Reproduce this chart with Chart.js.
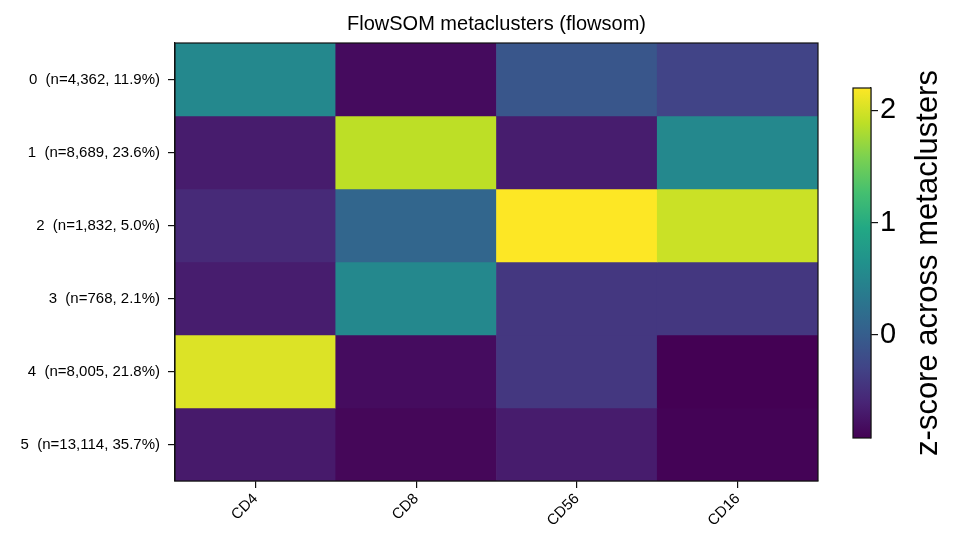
<!DOCTYPE html>
<html>
<head>
<meta charset="utf-8">
<script src="https://cdn.jsdelivr.net/npm/chart.js@4.4.1/dist/chart.umd.min.js"></script>
<style>
  body { margin: 0; background: #fff; }
  #wrap { position: relative; width: 957px; height: 552px; }
  #wrap canvas { position: absolute; top: 0; }
</style>
</head>
<body>
<div id="wrap">
  <canvas id="heat" width="957" height="552" style="left:0"></canvas>
  <canvas id="cbar" width="137" height="552" style="left:820px"></canvas>
</div>
<script>
// markers on x, metaclusters on y
var markers = ['CD4', 'CD8', 'CD56', 'CD16'];
var clusters = [
  '0  (n=4,362, 11.9%)',
  '1  (n=8,689, 23.6%)',
  '2  (n=1,832, 5.0%)',
  '3  (n=768, 2.1%)',
  '4  (n=8,005, 21.8%)',
  '5  (n=13,114, 35.7%)'
];
// z-scores per metacluster (CD4, CD8, CD56, CD16)
var z0 = [0.53, -0.83, -0.09, -0.30];
var z1 = [-0.68, 1.89, -0.67, 0.53];
var z2 = [-0.55, 0.10, 2.20, 1.95];
var z3 = [-0.67, 0.53, -0.42, -0.42];
var z4 = [2.04, -0.82, -0.42, -0.92];
var z5 = [-0.70, -0.87, -0.68, -0.90];
var zRows = [z0, z1, z2, z3, z4, z5];
var cbarTicks = [0, 1, 2];
var title = 'FlowSOM metaclusters (flowsom)';
var cbarTitle = 'z-score across metaclusters';

var zmin = Math.min.apply(null, zRows.flat());
var zmax = Math.max.apply(null, zRows.flat());

var viridis = ['#440154', '#482475', '#414487', '#355f8d', '#2a788e',
  '#21918c', '#22a884', '#44bf70', '#7ad151', '#bddf26', '#fde725'];

function hexRgb(h) {
  return [parseInt(h.substr(1, 2), 16), parseInt(h.substr(3, 2), 16), parseInt(h.substr(5, 2), 16)];
}

function colorFor(v) {
  var t = (v - zmin) / (zmax - zmin);
  t = Math.max(0, Math.min(1, t)) * (viridis.length - 1);
  var i = Math.min(Math.floor(t), viridis.length - 2);
  var f = t - i;
  var a = hexRgb(viridis[i]), b = hexRgb(viridis[i + 1]);
  var c = a.map(function(x, k) { return Math.round(x + (b[k] - x) * f); });
  return 'rgb(' + c.join(',') + ')';
}

var FONT = "'Liberation Sans', Arial, sans-serif";
Chart.defaults.font.family = FONT;
Chart.defaults.color = '#000';
Chart.defaults.animation = false;

var framePlugin = {
  id: 'frame',
  afterDraw: function(chart) {
    var a = chart.chartArea, ctx = chart.ctx;
    ctx.save();
    ctx.strokeStyle = '#111';
    ctx.lineWidth = 1.2;
    ctx.strokeRect(a.left, a.top, a.right - a.left, a.bottom - a.top);
    ctx.restore();
  }
};

// title centred over the heatmap area, like matplotlib does
var axTitle = {
  id: 'axTitle',
  afterDraw: function(chart) {
    var a = chart.chartArea, ctx = chart.ctx;
    ctx.save();
    ctx.fillStyle = '#000';
    ctx.font = '20px ' + FONT;
    ctx.textAlign = 'center';
    ctx.textBaseline = 'middle';
    ctx.fillText(title, (a.left + a.right) / 2, 24);
    ctx.restore();
  }
};

// one stacked unit bar per metacluster row, coloured by z-score
var heatDatasets = zRows.map(function(row, i) {
  return {
    label: clusters[i],
    data: markers.map(function() { return 1; }),
    backgroundColor: row.map(colorFor),
    borderWidth: 0,
    barPercentage: 1,
    categoryPercentage: 1
  };
});

new Chart(document.getElementById('heat'), {
  type: 'bar',
  data: { labels: markers, datasets: heatDatasets },
  options: {
    responsive: false,
    devicePixelRatio: 1,
    layout: { padding: { left: 0, right: 139, top: 43, bottom: 0 } },
    plugins: {
      legend: { display: false },
      tooltip: { enabled: false },
      title: { display: false }
    },
    scales: {
      x: {
        stacked: true,
        grid: { offset: false, drawOnChartArea: false, drawTicks: true, tickLength: 7, color: '#111', lineWidth: 1.2 },
        border: { display: true, color: '#111', width: 1.2 },
        ticks: { maxRotation: 45, minRotation: 45, font: { size: 15 }, padding: 2 },
        afterFit: function(s) { s.height = 71; }
      },
      y: {
        stacked: true,
        reverse: true,
        min: 0,
        max: clusters.length,
        grid: { drawOnChartArea: false, drawTicks: true, tickLength: 7, color: '#111', lineWidth: 1.2 },
        border: { display: true, color: '#111', width: 1.2 },
        afterBuildTicks: function(s) {
          s.ticks = clusters.map(function(c, i) { return { value: i + 0.5 }; });
        },
        ticks: {
          font: { size: 15 },
          padding: 8,
          callback: function(v) { return clusters[Math.floor(v)]; }
        },
        afterFit: function(s) { s.width = 175; }
      }
    }
  },
  plugins: [framePlugin, axTitle]
});

var cbarLabel = {
  id: 'cbarLabel',
  afterDraw: function(chart) {
    var a = chart.chartArea, ctx = chart.ctx;
    ctx.save();
    ctx.translate(108, (a.top + a.bottom) / 2);
    ctx.rotate(-Math.PI / 2);
    ctx.fillStyle = '#000';
    ctx.font = '31px ' + FONT;
    ctx.textAlign = 'center';
    ctx.textBaseline = 'middle';
    ctx.fillText(cbarTitle, 0, 0);
    ctx.restore();
  }
};

new Chart(document.getElementById('cbar'), {
  type: 'bar',
  data: {
    labels: [''],
    datasets: [{
      data: [[zmin, zmax]],
      backgroundColor: function(ctx) {
        var a = ctx.chart.chartArea;
        if (!a) return viridis[0];
        var g = ctx.chart.ctx.createLinearGradient(0, a.bottom, 0, a.top);
        viridis.forEach(function(c, i) { g.addColorStop(i / (viridis.length - 1), c); });
        return g;
      },
      borderWidth: 0,
      barPercentage: 1,
      categoryPercentage: 1
    }]
  },
  options: {
    responsive: false,
    devicePixelRatio: 1,
    layout: { padding: { left: 33, right: 0, top: 88, bottom: 114 } },
    plugins: { legend: { display: false }, tooltip: { enabled: false } },
    scales: {
      x: { display: false },
      y: {
        position: 'right',
        min: zmin,
        max: zmax,
        grid: { drawOnChartArea: false, drawTicks: true, tickLength: 7, color: '#111', lineWidth: 1.2 },
        border: { display: true, color: '#111', width: 1.2 },
        afterBuildTicks: function(s) {
          s.ticks = cbarTicks.map(function(v) { return { value: v }; });
        },
        ticks: { font: { size: 29 }, padding: 2 },
        afterFit: function(s) { s.width = 86; }
      }
    }
  },
  plugins: [framePlugin, cbarLabel]
});
</script>
</body>
</html>
